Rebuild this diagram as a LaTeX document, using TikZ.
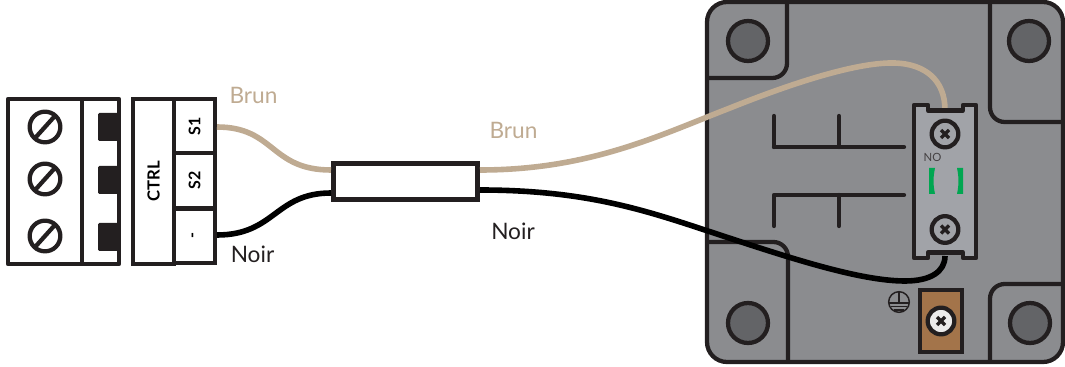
\documentclass[tikz,border=0pt]{standalone}
\usepackage{fontspec}
\setmainfont{Lato}
\definecolor{ink}{HTML}{231F20}
\definecolor{brunc}{HTML}{BFAB92}
\definecolor{house}{HTML}{8B8C8F}
\definecolor{hole}{HTML}{636467}
\definecolor{termc}{HTML}{A1A3A8}
\definecolor{plate}{HTML}{A3744A}
\definecolor{greenc}{HTML}{00A651}
\tikzset{
  x=0.75pt,y=-0.75pt,
  ln/.style={draw=ink,line width=3.2pt,line join=round},
  thin ln/.style={draw=ink,line width=1.1pt},
  blk/.style={draw=ink,line width=3.2pt,inner sep=0pt},
  tlab/.style={font=\fontsize{12.5pt}{14pt}\selectfont\bfseries,text=ink},
  wlabel/.style={font=\fontsize{17pt}{20pt}\selectfont,inner sep=0pt},
  wirebrun/.style={draw=brunc,line width=4.2pt},
  wirenoir/.style={draw=black,line width=4.2pt},
  mount/.style={circle,draw=ink,line width=3.2pt,fill=hole,minimum size=30pt,inner sep=0pt},
  slot/.style={circle,draw=ink,line width=3.2pt,fill=white,minimum size=23pt,inner sep=0pt},
  xscrew/.style={circle,draw=ink,line width=3.2pt,minimum size=20pt,inner sep=0pt},
}
\newcommand{\slotscrew}[2]{%
  \node[slot] (#2) at (#1) {};
  \draw[ln] (#2.center) ++(-9,10) -- ++(18,-20);
}
\newcommand{\xhead}[1]{%
  \draw[draw=ink,line width=2.6pt] (#1) ++(-4,-4) -- ++(8,8) (#1) ++(-4,4) -- ++(8,-8);
}
\begin{document}
\begin{tikzpicture}
\useasboundingbox (0,0) rectangle (1065,367);
% housing
\draw[ln,fill=house,rounded corners=15pt] (1063,2) -- (707,2) -- (707,362) -- (1063,362) -- cycle;
% compartments
\begin{scope}[rounded corners=11pt]
\draw[ln] (707,78) -- (787,78) -- (787,2);
\draw[ln] (990,2) -- (990,122) -- (1064,122);
\draw[ln] (707,242) -- (788,242) -- (788,362);
\draw[ln] (990,362) -- (990,284) -- (1064,284);
\end{scope}
\node[mount] (m1) at (748,41) {};
\node[mount] (m2) at (1029,41) {};
\node[mount] (m3) at (748,323) {};
\node[mount] (m4) at (1030,323) {};
% internal bars
\draw[ln,line cap=round] (774,116) -- (774,147);
\draw[ln,line cap=round] (839,116) -- (839,147);
\draw[ln,line cap=round] (774,147) -- (904,147);
\draw[ln,line cap=round] (774,226) -- (774,195) -- (904,195);
\draw[ln,line cap=round] (839,195) -- (839,226);
\coordinate (bt) at (945,110);
\coordinate (nt) at (945,256);
% left block
\draw[ln] (8,99) rectangle (119,264);
\draw[ln] (82,99) -- (82,264);
\slotscrew{45,127}{sa}
\slotscrew{45,179}{sb}
\slotscrew{45,236}{sc}
\fill[ink,rounded corners=1pt] (98,113) rectangle (119,141);
\fill[ink,rounded corners=1pt] (98,166) rectangle (119,194);
\fill[ink,rounded corners=1pt] (98,223) rectangle (119,251);
% CTRL block
\node[blk,minimum width=31pt,minimum height=124pt] (ctrl) at (153.5,181.5) {\rotatebox{90}{\tikzset{}\fontsize{12.5pt}{14pt}\selectfont\bfseries CTRL}};
\node[blk,minimum width=31pt,minimum height=41pt] (s1) at (194.5,126) {\rotatebox{90}{\fontsize{12pt}{14pt}\selectfont\bfseries S1}};
\node[blk,minimum width=31pt,minimum height=41pt] (s2) at (194.5,180.5) {\rotatebox{90}{\fontsize{12pt}{14pt}\selectfont\bfseries S2}};
\node[blk,minimum width=31pt,minimum height=41pt] (minus) at (194.5,236) {\rotatebox{90}{\fontsize{12pt}{14pt}\selectfont\bfseries -}};
% splice
\node[draw=ink,line width=3.6pt,fill=white,minimum width=107.5pt,minimum height=27pt,inner sep=0pt] (splice) at (405.5,181.5) {};
\coordinate (spwb) at (331,170);
\coordinate (spwn) at (331,193);
\coordinate (speb) at (480,170);
\coordinate (spen) at (480,190);
% wires
\draw[wirebrun] (217,127) .. controls (275,127) and (270,170) .. (spwb);
\draw[wirenoir] (217,235) .. controls (275,235) and (275,193) .. (spwn);
\draw[wirebrun] (speb) .. controls (590,170) and (660,135) .. (730,108) .. controls (800,80) and (860,62) .. (895,63) .. controls (925,64) and (945,80) .. (bt);
\draw[wirenoir] (spen) .. controls (590,190) and (650,212) .. (720,235) .. controls (790,258) and (860,281) .. (905,281) .. controls (930,281) and (945,272) .. (nt);
% terminal
\draw[ln,fill=termc] (914,105) -- (928,105) -- (928,110.5) -- (963,110.5) -- (963,105) -- (976,105) -- (976,258) -- (963,258) -- (963,252.5) -- (928,252.5) -- (928,258) -- (914,258) -- cycle;
\node[xscrew,fill=termc] (s3) at (945,134) {};
\xhead{s3.center}
\node[xscrew,fill=termc] (s4) at (945,229.5) {};
\xhead{s4.center}
\node[inner sep=0pt,text=ink!85,font=\fontsize{8.5pt}{10pt}\selectfont] (no) at (932.5,157.5) {NO};
\fill[greenc] (929,168) -- (935,168) .. controls (933,178) and (933,184) .. (935,194) -- (929,194) -- cycle;
\fill[greenc] (963,168) -- (957,168) .. controls (959,178) and (959,184) .. (957,194) -- (963,194) -- cycle;
% ground plate
\node[draw=ink,line width=3.2pt,fill=plate,minimum width=32pt,minimum height=47pt,inner sep=0pt] (pl) at (941,321) {};
\node[xscrew,fill=black!8] (s5) at (941,321) {};
\xhead{s5.center}
% ground symbol
\node[circle,draw=ink,line width=1.1pt,minimum size=15.5pt,inner sep=0pt] (gnd) at (899,302) {};
\draw[thin ln] (gnd.north) -- (899,303);
\draw[thin ln] (889,303) -- (909,303);
\draw[thin ln] (891,306.5) -- (907,306.5);
\draw[thin ln] (894,310) -- (904,310);
% labels
\node[wlabel,text=brunc] (l1) at (253.5,95) {Brun};
\node[wlabel,text=brunc] (l2) at (513.5,130) {Brun};
\node[wlabel,text=ink] (l3) at (252.5,254) {Noir};
\node[wlabel,text=ink] (l4) at (513,231) {Noir};
\end{tikzpicture}
\end{document}
